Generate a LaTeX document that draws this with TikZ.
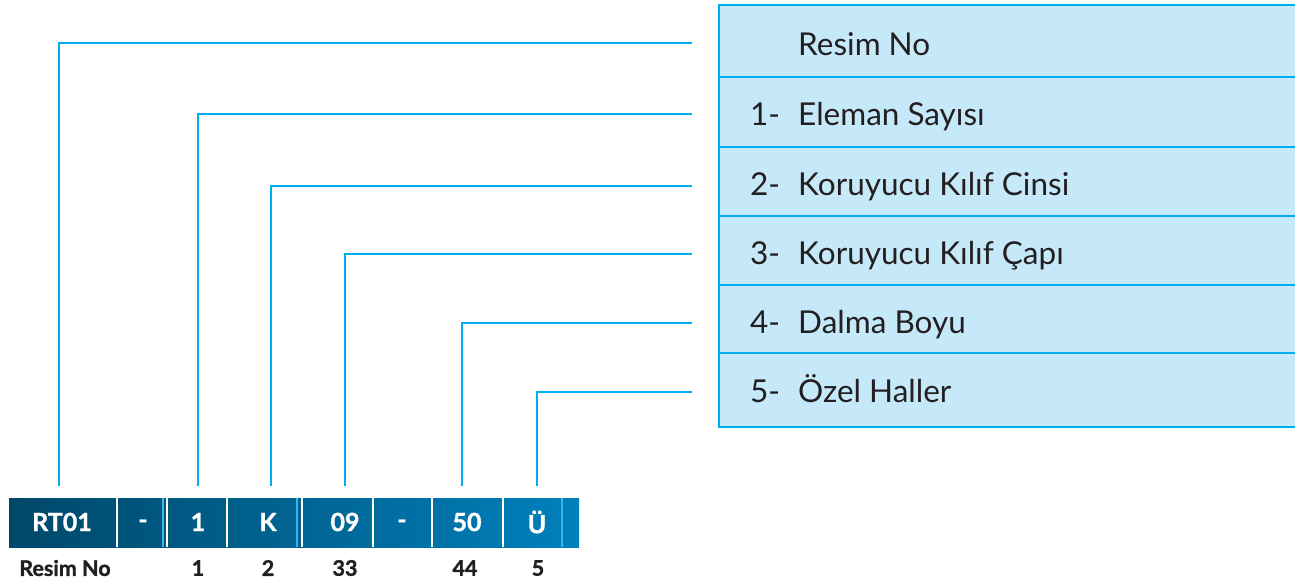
\documentclass[tikz,border=0pt]{standalone}
\usepackage{fontspec}
\setmainfont{Lato}[BoldFeatures={FakeBold=1.3}]
\definecolor{cyanline}{RGB}{0,174,239}
\definecolor{rowfill}{RGB}{198,233,249}
\definecolor{ink}{RGB}{35,31,32}
\definecolor{barL}{RGB}{0,72,105}
\definecolor{barR}{RGB}{0,128,188}
\definecolor{divblue}{RGB}{60,180,230}
\tikzset{
  conn/.style={draw=cyanline, line width=2.8pt},
  rowbox/.style={draw=cyanline, line width=2.5pt, fill=rowfill, anchor=north west, minimum width=578pt, inner sep=0pt, outer sep=0pt},
  rowtxt/.style={anchor=base west, inner sep=0pt, text=ink, font=\fontsize{31.5}{31.5}\selectfont},
  bartxt/.style={text=white, inner sep=0pt, font=\bfseries\fontsize{25}{25}\selectfont},
  lbl/.style={text=ink, inner sep=0pt, font=\bfseries\fontsize{21.5}{21.5}\selectfont},
  divw/.style={draw=white, line width=1.8pt},
  divb/.style={draw=divblue, line width=1.4pt}
}
\begin{document}
\begin{tikzpicture}[x=1pt,y=-1pt]
\useasboundingbox (0,0) rectangle (1295,581);
% table rows
\node[rowbox, minimum height=72pt] (r0) at (719,5) {};
\node[rowbox, minimum height=70pt] (r1) at (719,77) {};
\node[rowbox, minimum height=69pt] (r2) at (719,147) {};
\node[rowbox, minimum height=69pt] (r3) at (719,216) {};
\node[rowbox, minimum height=68pt] (r4) at (719,285) {};
\node[rowbox, minimum height=74pt] (r5) at (719,353) {};
% row texts
\node[rowtxt] (t0) at (798,55) {Resim No};
\node[rowtxt] (n1) at (750,125) {1-};
\node[rowtxt] (t1) at (798,125) {Eleman Sayısı};
\node[rowtxt] (n2) at (750,195) {2-};
\node[rowtxt] (t2) at (798,195) {Koruyucu Kılıf Cinsi};
\node[rowtxt] (n3) at (750,264) {3-};
\node[rowtxt] (t3) at (798,264) {Koruyucu Kılıf Çapı};
\node[rowtxt] (n4) at (750,333) {4-};
\node[rowtxt] (t4) at (798,333) {Dalma Boyu};
\node[rowtxt] (n5) at (750,402) {5-};
\node[rowtxt] (t5) at (798,402) {Özel Haller};
% code bar
\shade[left color=barL, right color=barR] (9,498) rectangle (579,547);
\draw[divw] (117,498) -- (117,547);
\draw[divb] (163,498) -- (163,547);
\draw[divw] (167,498) -- (167,547);
\draw[divw] (227,498) -- (227,547);
\draw[divb] (297,498) -- (297,547);
\draw[divw] (302,498) -- (302,547);
\draw[divw] (373,498) -- (373,547);
\draw[divw] (432,498) -- (432,547);
\draw[divw] (503,498) -- (503,547);
\draw[divb] (562,498) -- (562,547);
\node[bartxt] (b1) at (62,522) {RT01};
\node[bartxt] (b2) at (143,524) {-};
\node[bartxt] (b3) at (198,522) {1};
\node[bartxt] (b4) at (268,522) {K};
\node[bartxt] (b5) at (345,522) {09};
\node[bartxt] (b6) at (402,524) {-};
\node[bartxt] (b7) at (467,522) {50};
\node[bartxt] (b8) at (537,522) {Ü};
% labels below
\node[lbl] (l1) at (65,568) {Resim No};
\node[lbl] (l2) at (198,568) {1};
\node[lbl] (l3) at (268,568) {2};
\node[lbl] (l4) at (345,568) {33};
\node[lbl] (l5) at (465,568) {44};
\node[lbl] (l6) at (538,568) {5};
% connector feet
\coordinate (f0) at (59,486);
\coordinate (f1) at (198,486);
\coordinate (f2) at (271,486);
\coordinate (f3) at (345,486);
\coordinate (f4) at (462,486);
\coordinate (f5) at (537,486);
\coordinate (e0) at (692,43);
\coordinate (e1) at (692,114);
\coordinate (e2) at (692,186);
\coordinate (e3) at (692,254);
\coordinate (e4) at (692,323);
\coordinate (e5) at (692,392);
\draw[conn] (f0) |- (e0);
\draw[conn] (f1) |- (e1);
\draw[conn] (f2) |- (e2);
\draw[conn] (f3) |- (e3);
\draw[conn] (f4) |- (e4);
\draw[conn] (f5) |- (e5);
\end{tikzpicture}
\end{document}
